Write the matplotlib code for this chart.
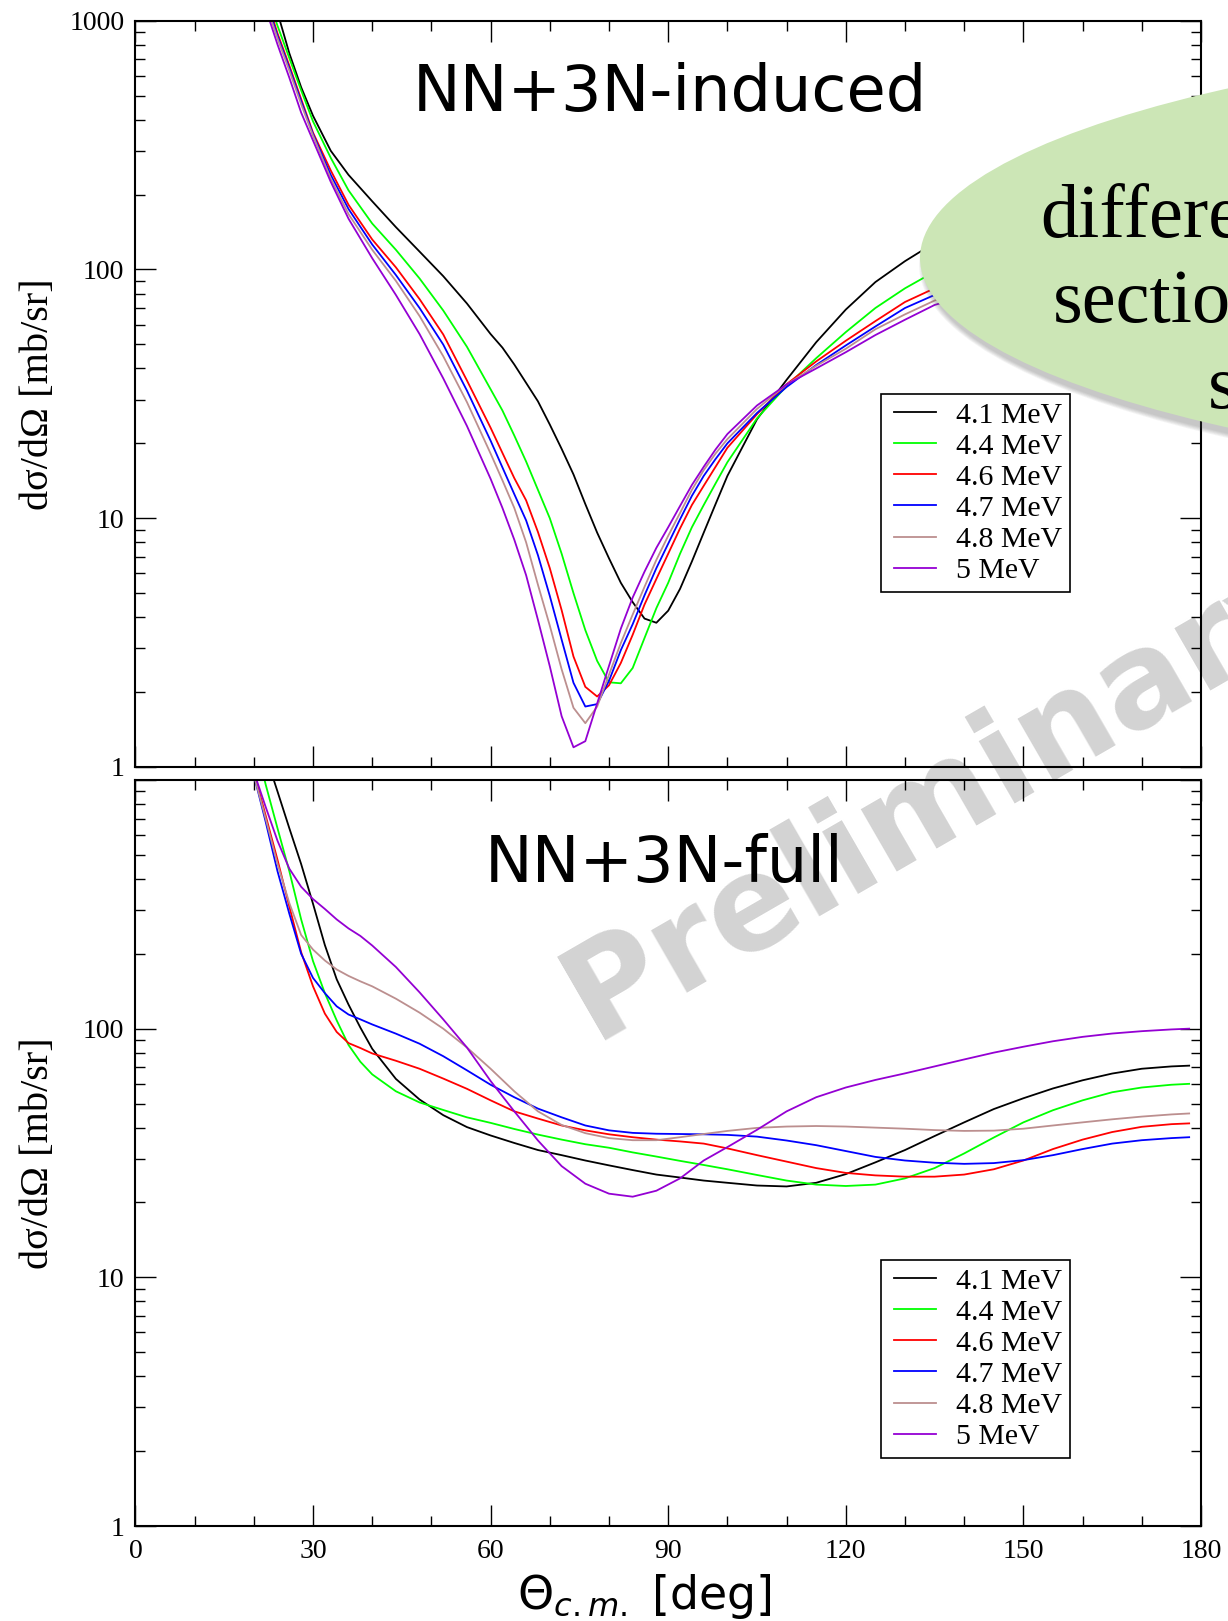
import matplotlib
matplotlib.use("Agg")
import matplotlib.pyplot as plt
from matplotlib.lines import Line2D
from matplotlib.legend_handler import HandlerLine2D
from matplotlib.patches import Ellipse
from matplotlib.ticker import MultipleLocator, LogLocator, FuncFormatter, NullFormatter

W, H = 1228, 1621

energies = ['4.1 MeV', '4.4 MeV', '4.6 MeV', '4.7 MeV', '4.8 MeV', '5 MeV']
colors = ['#000000', '#00ff00', '#ff0000', '#0000ff', '#bc8f8f', '#9400d3']

# NN+3N-induced, dsigma/dOmega in mb/sr
theta_induced = [20, 22, 24, 26, 28, 30, 33, 36, 40, 44, 48, 52, 56, 60, 62, 64, 66, 68,
                 70, 72, 74, 76, 78, 80, 82, 84, 86, 88, 90, 92, 94, 96, 98, 100,
                 105, 110, 115, 120, 125, 130, 135, 140, 150, 160, 170, 178]
induced_41 = [2100, 1550, 1080, 740, 540, 415, 300, 240, 188, 148, 118, 94, 73, 55, 48.5, 41.5, 35, 29.5,
              23.8, 19.0, 15, 11.4, 8.75, 6.9, 5.5, 4.6, 3.95, 3.8, 4.25, 5.2, 6.7, 8.75, 11.4, 14.8,
              25, 36, 51, 69, 89, 108, 128, 145, 175, 200, 215, 220]
induced_44 = [2000, 1320, 955, 708, 525, 394, 281, 208, 153, 120, 92, 68.4, 48.9, 33, 27.1, 21.5, 16.9, 13.0,
              10.0, 7.2, 5.0, 3.55, 2.67, 2.19, 2.17, 2.5, 3.3, 4.35, 5.5, 7.2, 9.2, 11.3, 13.8, 16.8,
              25.2, 34, 44, 56, 70, 84, 98, 110, 130, 145, 155, 160]
induced_46 = [1780, 1260, 890, 660, 484, 355, 250, 182, 132, 102, 76, 54.8, 35.8, 23.1, 18.3, 14.5, 11.8, 8.8,
              6.3, 4.27, 2.78, 2.1, 1.92, 2.13, 2.62, 3.4, 4.5, 5.7, 7.2, 9.1, 11.3, 13.5, 16.1, 19.2,
              26.2, 34.6, 42.7, 51.7, 62, 74, 84, 94, 110, 122, 130, 133]
induced_47 = [1740, 1215, 870, 645, 474, 350, 240, 175, 126, 95, 70, 49.9, 32.6, 20.5, 16, 12.5, 9.8, 7.1,
              4.87, 3.25, 2.18, 1.75, 1.79, 2.22, 2.95, 3.75, 4.9, 6.3, 7.9, 9.9, 12.3, 14.8, 17.3, 20,
              26.5, 33.7, 41.3, 49.5, 59, 70, 79, 89, 104, 115, 122, 125]
induced_48 = [1660, 1175, 850, 630, 462, 345, 232, 167, 120, 90, 65, 44.8, 29.3, 18.2, 14.2, 11, 8.0, 5.4,
              3.7, 2.47, 1.73, 1.5, 1.75, 2.35, 3.15, 4.1, 5.3, 6.8, 8.5, 10.5, 13, 15.6, 18.2, 20.8,
              27.5, 34.5, 41, 48, 57.5, 66, 75, 83, 96, 106, 112, 115]
induced_50 = [1580, 1120, 803, 590, 427, 330, 225, 160, 111, 79, 55, 36.5, 23.5, 14.4, 11.0, 8.2, 5.9, 3.9,
              2.54, 1.6, 1.2, 1.27, 1.8, 2.55, 3.6, 4.8, 6.1, 7.6, 9.2, 11.2, 13.6, 16.1, 18.9, 21.8,
              28.4, 34.5, 40, 46.5, 54.5, 62.8, 72, 78, 90, 98, 103, 105]

# NN+3N-full
theta_full = [20, 22, 24, 26, 28, 30, 32, 34, 36, 38, 40, 44, 48, 52, 56, 60, 64, 68, 72, 76, 80,
              84, 88, 92, 96, 100, 105, 110, 115, 120, 125, 130, 135, 140, 145, 150, 155, 160,
              165, 170, 175, 178]
full_41 = [1800, 1260, 900, 640, 459, 318, 217, 158, 125, 101, 83, 62.8, 51.9, 44.9, 40.2, 37.2, 34.7,
           32.5, 31, 29.5, 28.2, 27, 25.9, 25.2, 24.5, 24, 23.4, 23.2, 24, 26, 29, 32.5, 37, 42,
           47.5, 52.5, 57.5, 62, 66, 69, 70.5, 71]
full_44 = [1500, 960, 640, 430, 275, 187, 139, 108, 86, 73.6, 65.5, 56, 50.5, 47.1, 44, 41.8, 39.5,
           37.5, 35.8, 34.3, 33.2, 31.8, 30.6, 29.4, 28.3, 27.2, 25.8, 24.5, 23.6, 23.3, 23.6, 25,
           27.5, 31.5, 36.5, 42, 47, 51.5, 55.5, 58, 59.5, 60]
full_46 = [1080, 720, 478, 310, 203, 148, 115, 97, 87.5, 83.6, 79.5, 74.3, 69, 63, 57.3, 51.5, 46.5,
           43.5, 40.8, 39, 37.6, 36.6, 35.8, 35.2, 34.5, 33, 31, 29.2, 27.5, 26.3, 25.7, 25.4, 25.4,
           25.9, 27.2, 29.5, 32.8, 35.8, 38.4, 40.3, 41.3, 41.6]
full_47 = [1050, 680, 430, 290, 200, 160, 139, 123, 114, 109, 104, 95.5, 87, 77.5, 68, 59.5, 53,
           47.7, 44, 40.8, 39, 38.1, 37.8, 37.7, 37.6, 37.4, 36.8, 35.5, 34, 32.2, 30.5, 29.5, 28.9,
           28.6, 28.8, 29.6, 31, 32.8, 34.5, 35.6, 36.3, 36.6]
full_48 = [1050, 700, 460, 320, 238, 208, 188, 173, 163, 155, 148, 132, 116, 100, 84, 69, 56, 46.5,
           41, 38, 36.3, 35.6, 35.6, 36.6, 37.7, 38.8, 39.9, 40.4, 40.6, 40.4, 40, 39.6, 39.1, 38.8,
           38.9, 39.6, 40.8, 42, 43.2, 44.3, 45.2, 45.6]
full_50 = [1080, 780, 570, 440, 372, 332, 303, 275, 253, 236, 216, 177, 140, 109, 84, 61.6, 46.5,
           35.5, 28, 23.8, 21.7, 21.1, 22.3, 25, 29.5, 33.4, 39.2, 46.5, 53, 58, 62.2, 66.1, 70.5,
           75.2, 80.1, 84.6, 89, 92.7, 95.6, 97.7, 99.3, 100]

induced_sets = [induced_41, induced_44, induced_46, induced_47, induced_48, induced_50]
full_sets = [full_41, full_44, full_46, full_47, full_48, full_50]

plt.rcParams['font.family'] = 'Liberation Serif'
plt.rcParams['mathtext.fontset'] = 'dejavusans'

fig = plt.figure(figsize=(W / 100, H / 100), dpi=100)


def px_box(left, top, right, bottom):
    return [left / W, 1 - bottom / H, (right - left) / W, (bottom - top) / H]


def fx(x):
    return x / W


def fy(y):
    return 1 - y / H


def style_axis(ax, show_1000, show_x):
    ax.set_facecolor('none')
    ax.set_xlim(0, 180)
    ax.set_yscale('log')
    ax.set_ylim(1, 1000)
    ax.xaxis.set_major_locator(MultipleLocator(30))
    ax.xaxis.set_minor_locator(MultipleLocator(10))
    ax.yaxis.set_major_locator(LogLocator(base=10, numticks=10))
    ax.yaxis.set_minor_locator(LogLocator(base=10, subs=range(2, 10), numticks=20))
    ax.yaxis.set_minor_formatter(NullFormatter())
    ax.yaxis.set_major_formatter(
        FuncFormatter(lambda v, p: '' if (v > 999 and not show_1000) else f'{v:g}'))
    ax.tick_params(which='both', direction='in', top=True, right=True, width=1.0,
                   labelsize=20, labelbottom=show_x)
    ax.tick_params(which='major', length=15)
    ax.tick_params(which='minor', length=7.5)
    ax.tick_params(axis='y', pad=8)
    ax.tick_params(axis='x', pad=9)
    for sp in ax.spines.values():
        sp.set_linewidth(1.5)


ax_top = fig.add_axes(px_box(135.4, 20.7, 1201, 767))
ax_bot = fig.add_axes(px_box(135.4, 780, 1201, 1526))
style_axis(ax_top, True, False)
style_axis(ax_bot, False, True)

for vals, c, lab in zip(induced_sets, colors, energies):
    ax_top.plot(theta_induced, vals, color=c, lw=1.3, label=lab)
for vals, c, lab in zip(full_sets, colors, energies):
    ax_bot.plot(theta_full, vals, color=c, lw=1.3, label=lab)

for ax, top in ((ax_top, 394), (ax_bot, 1260)):
    leg = ax.legend(loc='upper left', bbox_to_anchor=(fx(881), fy(top)),
                    bbox_transform=fig.transFigure, borderaxespad=0, fontsize=21.5,
                    fancybox=False, edgecolor='black', framealpha=1,
                    handlelength=1.58, handletextpad=0.68, labelspacing=0.14, borderpad=0.26,
                    handler_map={Line2D: HandlerLine2D(xpad=0.19)})
    leg.get_frame().set_linewidth(1.2)

# watermark sits behind everything drawn in the axes
fig.text(fx(594), fy(1040), 'Preliminary', family='DejaVu Sans', fontweight='bold',
         fontsize=94, color='#d3d3d3', rotation=30, rotation_mode='anchor',
         ha='left', va='baseline', zorder=-1)

fig.text(fx(670), fy(110.6), 'NN+3N-induced', family='DejaVu Sans', fontsize=46,
         ha='center', va='baseline', zorder=3)
fig.text(fx(664), fy(881.7), 'NN+3N-full', family='DejaVu Sans', fontsize=46,
         ha='center', va='baseline', zorder=3)

for yc in (394, 1153):
    fig.text(fx(39), fy(yc), 'dσ/dΩ [mb/sr]', rotation=90, ha='center', va='center',
             fontsize=29)
fig.text(fx(644), fy(1609), r'$\Theta_{c.m.}$ [deg]', family='DejaVu Sans', fontsize=33,
         ha='center', va='baseline')

# callout bubble in the upper right corner, with a soft shadow
cx, cy, a, b = 1900, 258, 980, 233
for i in range(6):
    fig.add_artist(Ellipse(((cx + 4) / 100, (H - cy - 7) / 100), 2 * (a + i) / 100,
                           2 * (b + i) / 100, transform=fig.dpi_scale_trans,
                           facecolor='#505050', edgecolor='none', alpha=0.06, zorder=4.9))
fig.add_artist(Ellipse((cx / 100, (H - cy) / 100), 2 * a / 100, 2 * b / 100,
                       transform=fig.dpi_scale_trans, facecolor='#cce6b6',
                       edgecolor='none', zorder=5))
for x, y, s in ((1040, 237, 'differential'), (1053, 322, 'section'), (1208, 408, 's')):
    fig.text(fx(x), fy(y), s, fontsize=55, ha='left', va='baseline', zorder=6)

fig.savefig('out.png', dpi=100)
